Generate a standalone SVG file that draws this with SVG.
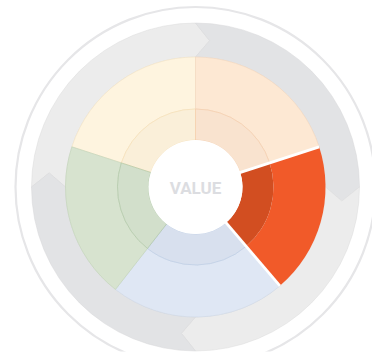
<svg xmlns="http://www.w3.org/2000/svg" width="372" height="358" viewBox="0 0 372 358">
  <style>
    .arrow-l { fill: #ececec; stroke: #dadada; stroke-width: 0.5; }
    .arrow-d { fill: #e2e3e5; stroke: #d6d6d8; stroke-width: 0.5; }
    .edge { stroke-width: 0.6; }
    .gap { stroke: #ffffff; stroke-width: 2.8; stroke-linecap: butt; }
    .label { font-family: Roboto, "Liberation Sans", sans-serif; font-weight: bold; font-size: 17px; fill: #dcdde1; text-anchor: middle; }
  </style>
  <defs>
    <clipPath id="cut"><rect x="0" y="0" width="372" height="351.5"/></clipPath>
  </defs>
  <rect width="372" height="358" fill="#ffffff"/>
  <circle cx="195.5" cy="187" r="180" fill="none" stroke="#e6e6e8" stroke-width="2.2" clip-path="url(#cut)"/>
  <g id="cycle-arrows">
    <path class="arrow-l" d="M31.5,187 A164,164 0 0 1 195.5,23 L209.59,40.68 L195.5,57 A130,130 0 0 0 65.5,187 L49.18,172.91 Z"/>
    <path class="arrow-d" d="M195.5,23 A164,164 0 0 1 359.5,187 L341.82,201.09 L325.5,187 A130,130 0 0 0 195.5,57 L209.59,40.68 Z"/>
    <path class="arrow-l" d="M359.5,187 A164,164 0 0 1 195.5,351 L181.41,333.32 L195.5,317 A130,130 0 0 0 325.5,187 L341.82,201.09 Z"/>
    <path class="arrow-d" d="M195.5,351 A164,164 0 0 1 31.5,187 L49.18,172.91 L65.5,187 A130,130 0 0 0 195.5,317 L181.41,333.32 Z"/>
  </g>
  <g id="slice-yellow">
    <path class="edge" fill="#fef4df" stroke="#f3e3c2" d="M71.86,146.83 A130,130 0 0 1 195.5,57 L195.5,109 A78,78 0 0 0 121.32,162.9 Z"/>
    <path class="edge" fill="#faefd9" stroke="#f5dcae" d="M121.32,162.9 A78,78 0 0 1 195.5,109 L195.5,140 A47,47 0 0 0 150.8,172.48 Z"/>
  </g>
  <g id="slice-peach">
    <path class="edge" fill="#fde8d3" stroke="#f1d5bc" d="M195.5,57 A130,130 0 0 1 319.14,146.83 L269.68,162.9 A78,78 0 0 0 195.5,109 Z"/>
    <path class="edge" fill="#f9e3cf" stroke="#f4c8a2" d="M195.5,109 A78,78 0 0 1 269.68,162.9 L240.2,172.48 A47,47 0 0 0 195.5,140 Z"/>
  </g>
  <g id="slice-orange">
    <path fill="#f15a29" d="M319.14,146.83 A130,130 0 0 1 279.93,285.85 L246.16,246.31 A78,78 0 0 0 269.68,162.9 Z"/>
    <path fill="#d24e21" d="M269.68,162.9 A78,78 0 0 1 246.16,246.31 L226.02,222.74 A47,47 0 0 0 240.2,172.48 Z"/>
  </g>
  <g id="slice-blue">
    <path class="edge" fill="#dfe7f4" stroke="#cdd7e6" d="M279.93,285.85 A130,130 0 0 1 115.46,289.44 L147.48,248.46 A78,78 0 0 0 246.16,246.31 Z"/>
    <path class="edge" fill="#d8e0ee" stroke="#b7c9e2" d="M246.16,246.31 A78,78 0 0 1 147.48,248.46 L166.56,224.04 A47,47 0 0 0 226.02,222.74 Z"/>
  </g>
  <g id="slice-green">
    <path class="edge" fill="#d7e3cf" stroke="#bfd1b6" d="M115.46,289.44 A130,130 0 0 1 71.86,146.83 L121.32,162.9 A78,78 0 0 0 147.48,248.46 Z"/>
    <path class="edge" fill="#d2dfcb" stroke="#a9c3a0" d="M147.48,248.46 A78,78 0 0 1 121.32,162.9 L150.8,172.48 A47,47 0 0 0 166.56,224.04 Z"/>
  </g>
  <g id="connectors">
    <line class="gap" x1="233.54" y1="174.64" x2="319.14" y2="146.83"/>
    <line class="gap" x1="221.48" y1="217.42" x2="279.93" y2="285.85"/>
  </g>
  <g id="center">
    <circle cx="195.5" cy="187" r="47" fill="#ffffff"/>
    <text class="label" x="195.5" y="193.5">VALUE</text>
  </g>
</svg>
